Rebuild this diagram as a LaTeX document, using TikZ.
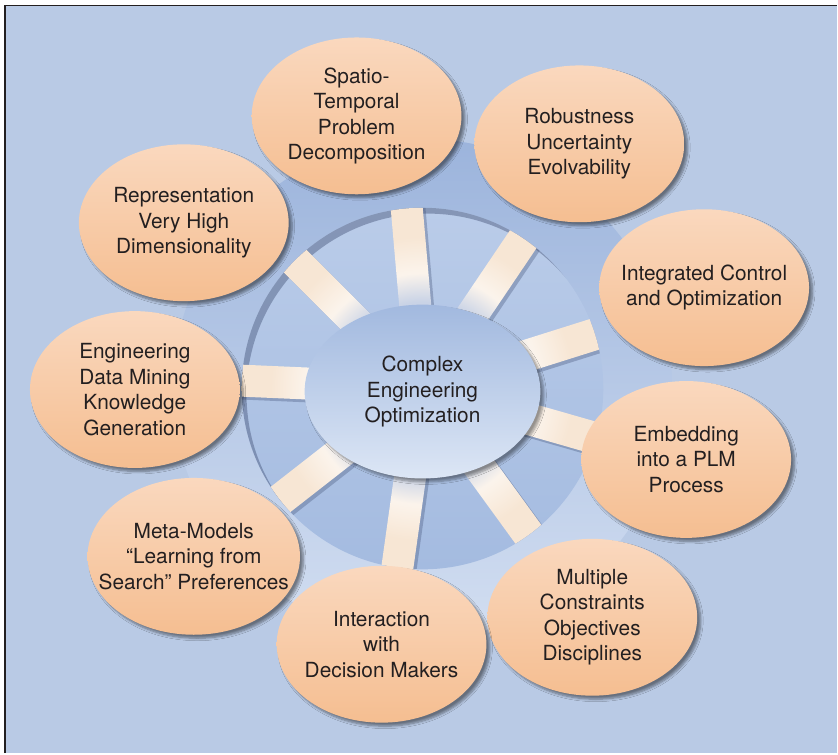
\documentclass[tikz,border=0pt]{standalone}
\usepackage{fontspec}
\setmainfont{TeX Gyre Heros}
\usetikzlibrary{positioning, calc, shapes.geometric, shadows.blur}

\definecolor{paper}{HTML}{B9CAE5}
\definecolor{glowtop}{HTML}{9CB4DC}
\definecolor{glowbot}{HTML}{D2DEF1}
\definecolor{wheeltop}{HTML}{BACCE9}
\definecolor{wheelbot}{HTML}{A4BBE0}
\definecolor{hubtop}{HTML}{A2B9DF}
\definecolor{hubbot}{HTML}{DCE6F5}
\definecolor{peachtop}{HTML}{FAD8BE}
\definecolor{peachbot}{HTML}{F5BE91}
\definecolor{cream}{HTML}{F7E6D4}
\definecolor{spokein}{HTML}{C9D3E6}
\definecolor{ink}{HTML}{231F20}
\definecolor{rimshade}{HTML}{46557A}

\pgfdeclareradialshading{spokeglow}{\pgfpoint{0bp}{0bp}}{color(0bp)=(spokein); color(12bp)=(spokein); color(16bp)=(white!55!cream); color(21bp)=(cream); color(25bp)=(cream); color(50bp)=(cream)}

\tikzset{
  bubble/.style={ellipse, minimum width=6.3cm, minimum height=4.71cm,
    inner xsep=-0.6cm, inner ysep=0pt, align=center,
    top color=peachtop, bottom color=peachbot, text=ink,
    font=\fontsize{17.8}{21.8}\selectfont,
    blur shadow={shadow xshift=3pt, shadow yshift=-3pt, shadow opacity=45, shadow blur steps=6}},
  corenode/.style={ellipse, minimum width=7.08cm, minimum height=5.22cm,
    inner sep=0pt, align=center,
    top color=hubtop, bottom color=hubbot, text=ink,
    font=\fontsize{17.8}{21.8}\selectfont,
    blur shadow={shadow xshift=3pt, shadow yshift=-3pt, shadow opacity=40, shadow blur steps=6}},
  spokeshadow/.style={fill=rimshade, opacity=0.35},
}

\begin{document}
\begin{tikzpicture}[x=0.03cm, y=-0.03cm]

  % frame and background
  \fill[white] (0,0) rectangle (838,754);
  \fill[paper] (6,6) rectangle (838,754);
  \draw[line width=1.7pt, ink] (5.5,754) -- (5.5,5.5) -- (838,5.5);
  \useasboundingbox (0,0) rectangle (838,754);

  % glow and wheel
  \coordinate (hub) at (423,389);
  \shade[top color=glowtop, bottom color=glowbot] (hub) circle (250);
  \shade[top color=wheeltop, bottom color=wheelbot] (hub) circle (181);

  \begin{scope}
    \clip (hub) circle (181);
    \draw[rimshade, line width=0.35cm, opacity=0.45] ($(hub)+(5,6)$) circle (187);
    % spoke shadows
    \foreach \a in {-95,-56,-17.5,16,54,98,142,182.5,225}
      \fill[spokeshadow] ($(hub)+(\a:60)+(\a+90:16)+(3,3)$) -- ($(hub)+(\a:185)+(\a+90:16)+(3,3)$)
        -- ($(hub)+(\a:185)+(\a-90:16)+(3,3)$) -- ($(hub)+(\a:60)+(\a-90:16)+(3,3)$) -- cycle;
  \end{scope}

  % spokes
  \begin{scope}
    \clip (hub) circle (181);
    \clip \foreach \a in {-95,-56,-17.5,16,54,98,142,182.5,225} {
      ($(hub)+(\a:60)+(\a+90:16)$) -- ($(hub)+(\a:185)+(\a+90:16)$)
        -- ($(hub)+(\a:185)+(\a-90:16)$) -- ($(hub)+(\a:60)+(\a-90:16)$) -- cycle };
    \shade[shading=spokeglow] (hub) circle (181);
  \end{scope}

  \node[corenode] (core) at (423,392) {Complex\\Engineering\\Optimization};

  % topics round the wheel
  \node[bubble] (repres) at (184,223) {Representation\\Very High\\Dimensionality};
  \node[bubble] (spatio) at (357,116) {Spatio-\\Temporal\\Problem\\Decomposition};
  \node[bubble] (integ) at (705,288) {Integrated Control\\and Optimization};
  \node[bubble] (robust) at (580,144) {Robustness\\Uncertainty\\Evolvability};
  \node[bubble] (mining) at (135,390) {Engineering\\Data Mining\\Knowledge\\Generation};
  \node[bubble] (meta) at (194,557) {Meta-Models\\``Learning from\\Search'' Preferences};
  \node[bubble] (multi) at (593,618) {Multiple\\Constraints\\Objectives\\Disciplines};
  \node[bubble] (embed) at (687,460) {Embedding\\into a PLM\\Process};
  \node[bubble] (interact) at (382,645) {Interaction\\with\\Decision Makers};

\end{tikzpicture}
\end{document}
